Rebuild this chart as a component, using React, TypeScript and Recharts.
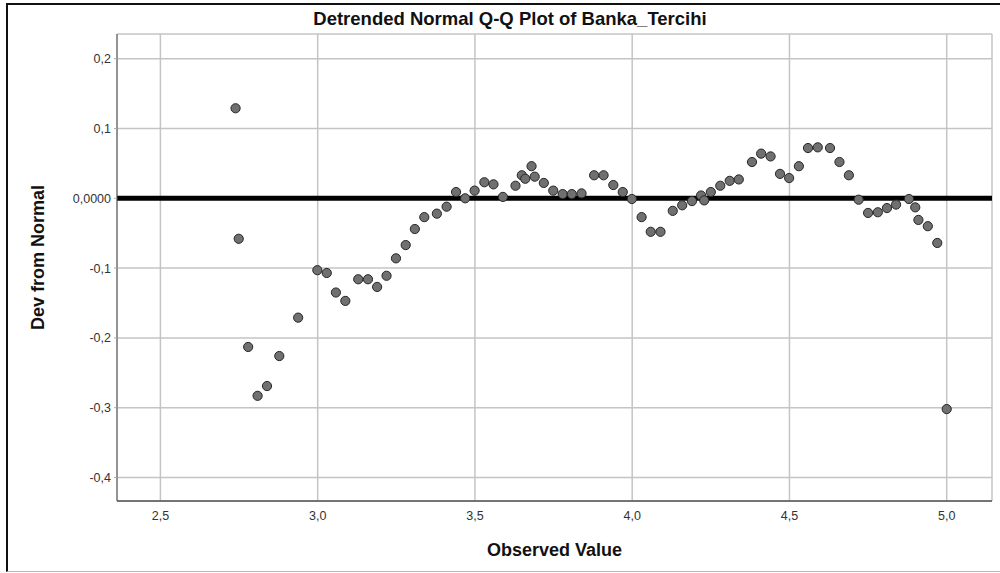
import React from 'react';
import { ScatterChart, Scatter, XAxis, YAxis, CartesianGrid, ReferenceLine, Label } from 'recharts';

const FONT = '"Liberation Sans", Arial, sans-serif';

const chartTitle = 'Detrended Normal Q-Q Plot of Banka_Tercihi';
const xAxisTitle = 'Observed Value';
const yAxisTitle = 'Dev from Normal';

const xTicks = [2.5, 3.0, 3.5, 4.0, 4.5, 5.0];
const yTicks = [0.2, 0.1, 0, -0.1, -0.2, -0.3, -0.4];

const observedValues = [
  2.739, 2.749, 2.779, 2.809, 2.839, 2.878, 2.938, 2.999, 3.029, 3.058,
  3.088, 3.129, 3.160, 3.189, 3.219, 3.249, 3.280, 3.309, 3.339, 3.379,
  3.410, 3.440, 3.469, 3.499, 3.530, 3.559, 3.589, 3.629, 3.649, 3.660,
  3.680, 3.690, 3.719, 3.749, 3.779, 3.808, 3.839, 3.879, 3.909, 3.940,
  3.970, 3.999, 4.030, 4.059, 4.090, 4.129, 4.159, 4.190, 4.219, 4.229,
  4.250, 4.280, 4.310, 4.339, 4.381, 4.410, 4.440, 4.470, 4.499, 4.530,
  4.559, 4.590, 4.629, 4.659, 4.689, 4.720, 4.750, 4.781, 4.810, 4.839,
  4.880, 4.900, 4.910, 4.940, 4.970, 5.000,
];

const devFromNormal = [
  0.129, -0.058, -0.213, -0.283, -0.269, -0.226, -0.171, -0.103, -0.107, -0.135,
  -0.147, -0.116, -0.116, -0.127, -0.111, -0.086, -0.067, -0.044, -0.027, -0.022,
  -0.012, 0.009, 0.000, 0.011, 0.023, 0.020, 0.002, 0.018, 0.033, 0.028,
  0.046, 0.031, 0.022, 0.011, 0.006, 0.006, 0.007, 0.033, 0.033, 0.019,
  0.009, -0.001, -0.027, -0.048, -0.048, -0.018, -0.010, -0.004, 0.004, -0.003,
  0.009, 0.018, 0.025, 0.027, 0.052, 0.064, 0.060, 0.035, 0.029, 0.046,
  0.072, 0.073, 0.072, 0.052, 0.033, -0.002, -0.021, -0.020, -0.014, -0.009,
  -0.001, -0.013, -0.031, -0.040, -0.064, -0.302,
];

const points = observedValues.map((x, i) => ({ x, y: devFromNormal[i] }));

const fmtX = (v: number) => v.toFixed(1).replace('.', ',');
const fmtY = (v: number) => (Math.abs(v) < 1e-9 ? '0,0000' : v.toFixed(1).replace('.', ','));

const Dot = (props: any) => {
  const { cx, cy } = props;
  if (cx == null || cy == null) return null;
  return <circle cx={cx} cy={cy} r={4.6} fill="#707070" stroke="#262626" strokeWidth={1} />;
};

export default function App() {
  return (
    <div style={{ position: 'absolute', left: 0, top: 0, width: 1000, height: 573, background: '#fff', fontFamily: FONT }}>
      <div
        style={{
          position: 'absolute', left: 6, top: 3, width: 994, height: 569,
          borderTop: '2px solid #111', borderLeft: '2px solid #111', borderBottom: '1px solid #bbb',
          boxSizing: 'border-box',
        }}
      />
      <div
        style={{
          position: 'absolute', left: 210, width: 600, top: 8, textAlign: 'center',
          fontSize: 18.5, fontWeight: 'bold', color: '#111', fontFamily: FONT, lineHeight: '22px',
        }}
      >
        {chartTitle}
      </div>
      <div style={{ position: 'absolute', left: 0, top: 0 }}>
        <ScatterChart width={1000} height={573} margin={{ top: 34, right: 8, bottom: 0, left: 0 }}>
          <CartesianGrid stroke="#c4c4c4" strokeWidth={1.5} />
          <XAxis
            type="number"
            dataKey="x"
            domain={[2.362, 5.144]}
            ticks={xTicks}
            tickFormatter={fmtX}
            height={72}
            tickLine={false}
            tickSize={5}
            tickMargin={5}
            axisLine={{ stroke: '#555', strokeWidth: 1.5 }}
            tick={{ fill: '#333', fontSize: 12.5, fontFamily: FONT }}
            allowDataOverflow
          >
            <Label
              content={(p: any) => {
                const vb = p.viewBox || {};
                return (
                  <text x={vb.x + vb.width / 2} y={556} textAnchor="middle" fontSize={18} fontWeight="bold" fill="#111" fontFamily={FONT}>
                    {xAxisTitle}
                  </text>
                );
              }}
            />
          </XAxis>
          <YAxis
            type="number"
            dataKey="y"
            domain={[-0.4337, 0.2354]}
            ticks={yTicks}
            tickFormatter={fmtY}
            width={117}
            tickSize={3}
            tickMargin={3}
            tickLine={{ stroke: '#aaa' }}
            axisLine={{ stroke: '#555', strokeWidth: 1 }}
            tick={{ fill: '#333', fontSize: 12.5, fontFamily: FONT }}
            allowDataOverflow
          >
            <Label
              content={(p: any) => {
                const vb = p.viewBox || {};
                const cy = vb.y + vb.height / 2;
                return (
                  <text
                    x={44}
                    y={cy - 10}
                    transform={`rotate(-90 44 ${cy - 10})`}
                    textAnchor="middle"
                    fontSize={18}
                    fontWeight="bold"
                    fill="#111"
                    fontFamily={FONT}
                  >
                    {yAxisTitle}
                  </text>
                );
              }}
            />
          </YAxis>
          <ReferenceLine y={0} stroke="#000" strokeWidth={5} />
          <Scatter data={points} shape={<Dot />} isAnimationActive={false} />
        </ScatterChart>
      </div>
    </div>
  );
}
